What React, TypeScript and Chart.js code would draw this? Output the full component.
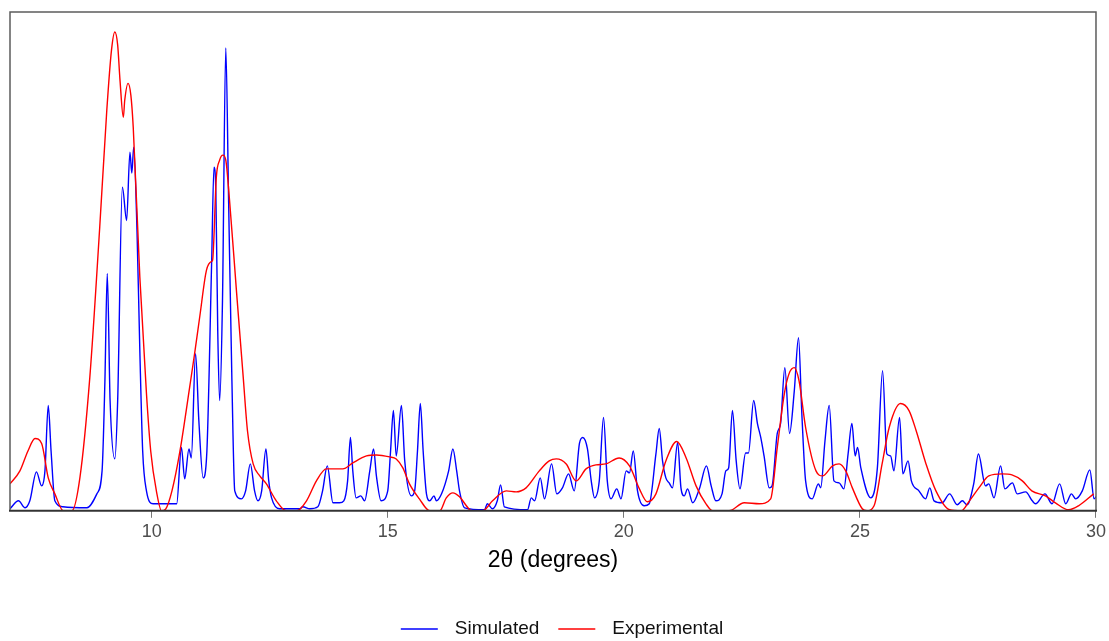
import { useEffect, useRef } from "react";
import { Chart, registerables } from "chart.js";

Chart.register(...registerables);

// Simulated powder pattern (2θ in degrees, relative intensity)
const simulatedTheta = [
  7.0, 7.18, 7.32, 7.42, 7.56, 7.67, 7.74, 7.81, 7.87, 7.95,
  8.12, 8.63, 8.84, 8.95, 9.01, 9.06, 9.12, 9.22, 9.28, 9.38,
  9.47, 9.54, 9.58, 9.62, 9.69, 9.75, 9.81, 9.89, 10.03, 10.53,
  10.63, 10.7, 10.79, 10.84, 10.93, 11.0, 11.09, 11.17, 11.27, 11.32,
  11.36, 11.4, 11.44, 11.5, 11.57, 11.63, 11.7, 11.76, 11.9, 11.99,
  12.09, 12.18, 12.25, 12.33, 12.42, 12.48, 12.54, 12.71, 13.14, 13.2,
  13.35, 13.52, 13.62, 13.72, 13.84, 13.98, 14.07, 14.15, 14.21, 14.26,
  14.33, 14.43, 14.51, 14.62, 14.7, 14.76, 14.86, 15.0, 15.06, 15.12,
  15.18, 15.29, 15.36, 15.5, 15.57, 15.63, 15.69, 15.75, 15.82, 15.89,
  15.98, 16.03, 16.14, 16.29, 16.38, 16.46, 16.52, 16.63, 17.05, 17.11,
  17.22, 17.32, 17.39, 17.47, 17.96, 18.04, 18.11, 18.23, 18.32, 18.47,
  18.58, 18.7, 18.83, 18.95, 19.06, 19.13, 19.23, 19.31, 19.38, 19.48,
  19.57, 19.65, 19.73, 19.85, 19.94, 20.05, 20.12, 20.2, 20.29, 20.43,
  20.54, 20.68, 20.75, 20.82, 20.89, 20.96, 21.03, 21.14, 21.21, 21.28,
  21.35, 21.46, 21.6, 21.75, 21.85, 21.95, 22.08, 22.16, 22.22, 22.3,
  22.38, 22.46, 22.58, 22.64, 22.75, 22.83, 22.9, 22.97, 23.08, 23.14,
  23.25, 23.32, 23.41, 23.51, 23.61, 23.7, 23.77, 23.85, 23.99, 24.12,
  24.17, 24.26, 24.35, 24.45, 24.56, 24.66, 24.75, 24.83, 24.9, 24.95,
  25.02, 25.23, 25.37, 25.48, 25.57, 25.65, 25.72, 25.84, 25.91, 26.02,
  26.09, 26.25, 26.39, 26.48, 26.57, 26.74, 26.9, 27.06, 27.17, 27.27,
  27.41, 27.51, 27.66, 27.73, 27.84, 27.98, 28.07, 28.23, 28.33, 28.51,
  28.65, 28.72, 28.92, 29.07, 29.23, 29.36, 29.48, 29.57, 29.71, 29.87,
  29.96, 30.0,
];
const simulatedIntensity = [
  0.4, 2.0, 0.6, 2.0, 7.8, 5.0, 8.0, 21.1, 12.0, 2.0,
  0.8, 0.6, 3.4, 8.0, 26, 47.6, 22, 10.4, 22, 64.9,
  58.2, 71.9, 67.7, 72.9, 56, 32, 12, 4.0, 1.4, 1.4,
  12.7, 6.4, 12.4, 10.6, 31.5, 18, 6.6, 12, 49.6, 68.9,
  63.7, 36, 22.1, 42, 92.8, 62, 26, 4.0, 2.4, 4,
  9.4, 4, 2.0, 4, 12.4, 6, 2.6, 0.4, 0.4, 0.8,
  0.4, 0.8, 4.0, 9.0, 1.6, 1.6, 2.0, 6, 14.7, 8,
  2.6, 3, 2.0, 8.0, 12.4, 7, 2.0, 4, 12, 20.1,
  11, 21.1, 10, 3, 4, 12, 21.5, 12, 3.4, 2.0,
  3.0, 2.0, 3.4, 8.0, 12.4, 8, 4, 0.6, 0.2, 1.4,
  0.4, 2, 5.2, 0.8, 0.2, 2.6, 2.0, 6.6, 2.4, 9.4,
  3.4, 4.6, 7.4, 4.0, 13.5, 14.7, 12.4, 6, 2.6, 6,
  18.7, 6, 2.4, 4.4, 2.4, 8.0, 7.6, 12.0, 4, 1.0,
  1.4, 11.4, 16.5, 10, 6.6, 5.6, 4.6, 13.7, 4.6, 3.0,
  4.4, 1.6, 4.4, 9.0, 5, 2.0, 3.4, 8.0, 8.6, 20.1,
  10, 4.4, 11.6, 11.6, 22.1, 17.5, 14.7, 11, 4.6, 5,
  15.5, 17.5, 28.7, 15.5, 24, 34.7, 19.5, 6, 2.4, 5.4,
  4.6, 14, 21.1, 6, 5.6, 4.4, 11.4, 17.5, 11, 12.7,
  8.6, 2.6, 8.6, 28.1, 11.4, 11, 8, 18.7, 7.4, 10,
  6, 4, 2.4, 4.6, 2, 1.6, 3.4, 1.2, 2, 1.2,
  5.4, 11.4, 5, 5.4, 2.6, 9.0, 4.4, 5.6, 3.4, 3.8,
  2, 1.4, 3.4, 1.4, 5.4, 1.4, 3.4, 2.4, 4, 8.2,
  2.4, 2.8,
];

// Measured powder pattern
const experimentalTheta = [
  7.0, 7.21, 7.38, 7.53, 7.67, 7.81, 7.95, 8.13, 8.31, 8.48,
  8.69, 8.9, 9.05, 9.15, 9.22, 9.28, 9.33, 9.4, 9.43, 9.5,
  9.56, 9.61, 9.75, 9.89, 9.98, 10.1, 10.21, 10.3, 10.43, 10.6,
  10.81, 10.91, 11.02, 11.16, 11.27, 11.29, 11.37, 11.44, 11.51, 11.57,
  11.65, 11.8, 11.94, 12.03, 12.15, 12.29, 12.43, 12.64, 12.85, 13.07,
  13.28, 13.49, 13.7, 13.91, 14.05, 14.26, 14.55, 14.76, 15.04, 15.18,
  15.32, 15.46, 15.67, 15.89, 16.1, 16.24, 16.38, 16.52, 16.7, 16.77,
  17.01, 17.22, 17.51, 17.72, 17.93, 18.21, 18.42, 18.57, 18.78, 18.99,
  19.2, 19.41, 19.62, 19.9, 20.12, 20.33, 20.5, 20.68, 20.89, 21.12,
  21.32, 21.53, 21.74, 21.88, 22.23, 22.55, 22.87, 23.11, 23.25, 23.4,
  23.5, 23.61, 23.71, 23.85, 24.07, 24.21, 24.42, 24.56, 24.7, 24.84,
  25.05, 25.15, 25.3, 25.47, 25.62, 25.86, 26.04, 26.19, 26.4, 26.61,
  26.9, 27.15, 27.32, 27.52, 27.73, 28.01, 28.22, 28.44, 28.64, 28.93,
  29.14, 29.42, 29.63, 29.95,
];
const experimentalIntensity = [
  5.4, 8.0, 12.0, 14.5, 13.5, 6.6, 3.4, 0, 0, 6.6,
  26.7, 56.8, 80.3, 92.4, 96.0, 93.4, 86.3, 78.9, 82.3, 85.7,
  83.3, 76.9, 46.8, 23.5, 12, 4.0, 0, 0.4, 4, 12.0,
  25.1, 31.5, 39, 48.2, 50.0, 50.2, 66.9, 70.3, 71.3, 70.3,
  62.2, 43.6, 26.7, 16, 9.4, 7, 5.4, 2.0, 0, 0,
  2.0, 6.0, 8.4, 8.4, 8.4, 9.6, 11.0, 11.2, 10.8, 10.4,
  8.6, 5.4, 2.4, 0, 0, 2.6, 3.6, 2.8, 0.6, 0,
  0, 2.0, 4.0, 3.8, 4.6, 8.0, 10.0, 10.4, 9.4, 6.0,
  8.4, 9.2, 9.4, 10.6, 9.0, 4.4, 1.8, 3.4, 10.0, 13.9,
  10.6, 5.0, 1.4, 0, 0, 1.6, 1.4, 2.4, 12.7, 23.5,
  27.5, 28.7, 26.1, 16.7, 8.0, 7.0, 9.0, 9.4, 8.0, 4.6,
  0.4, 0, 1.0, 9.4, 16.7, 21.5, 20.1, 16.1, 9.4, 4.0,
  0.2, 0, 2.0, 4.6, 7.0, 7.4, 7.2, 6.0, 4.0, 3.0,
  1.6, 0.2, 1.0, 3.4,
];

const thetaTicks = [10, 15, 20, 25, 30];
const thetaRange = [7, 30];
const intensityRange = [0, 100];

const FONT = 'Arial, "Liberation Sans", sans-serif';

// Box around the plotting area plus a darker baseline
const plotFrame = {
  id: "plotFrame",
  afterDatasetsDraw(chart: any) {
    const { ctx, chartArea: a } = chart;
    ctx.save();
    ctx.strokeStyle = "#5c5c5c";
    ctx.lineWidth = 1.5;
    ctx.beginPath();
    ctx.moveTo(a.left, a.bottom);
    ctx.lineTo(a.left, a.top);
    ctx.lineTo(a.right, a.top);
    ctx.lineTo(a.right, a.bottom);
    ctx.stroke();
    ctx.strokeStyle = "#333333";
    ctx.lineWidth = 2;
    ctx.beginPath();
    ctx.moveTo(a.left - 1, a.bottom);
    ctx.lineTo(a.right + 1, a.bottom);
    ctx.stroke();
    ctx.restore();
  },
};

// Horizontal line-sample legend under the axis title
const lineLegend = {
  id: "lineLegend",
  afterDraw(chart: any) {
    const { ctx, chartArea: a } = chart;
    ctx.save();
    ctx.font = `19px ${FONT}`;
    ctx.textBaseline = "middle";
    const sample = 37;
    const gapText = 17;
    const gapItem = 19;
    const items = chart.data.datasets.map((ds: any) => ({
      label: ds.label as string,
      color: ds.borderColor as string,
      w: ctx.measureText(ds.label).width,
    }));
    const total =
      items.reduce((s: number, it: any) => s + sample + gapText + it.w, 0) +
      gapItem * (items.length - 1);
    let x = (a.left + a.right) / 2 + 9 - total / 2;
    const y = 629;
    for (const it of items) {
      ctx.strokeStyle = it.color;
      ctx.lineWidth = 1.6;
      ctx.beginPath();
      ctx.moveTo(x, y);
      ctx.lineTo(x + sample, y);
      ctx.stroke();
      x += sample + gapText;
      ctx.fillStyle = "#111111";
      ctx.fillText(it.label, x, y);
      x += it.w + gapItem;
    }
    ctx.restore();
  },
};

export default function App() {
  const canvasRef = useRef<HTMLCanvasElement | null>(null);

  useEffect(() => {
    if (!canvasRef.current) return;
    const simulated = simulatedTheta.map((x, i) => ({ x, y: simulatedIntensity[i] }));
    const experimental = experimentalTheta.map((x, i) => ({ x, y: experimentalIntensity[i] }));

    const chart = new Chart(canvasRef.current, {
      type: "line",
      data: {
        datasets: [
          {
            label: "Simulated",
            data: simulated,
            borderColor: "#0000ff",
            borderWidth: 1.4,
            pointRadius: 0,
            cubicInterpolationMode: "monotone",
            order: 1,
          },
          {
            label: "Experimental",
            data: experimental,
            borderColor: "#ff0000",
            borderWidth: 1.4,
            pointRadius: 0,
            cubicInterpolationMode: "monotone",
            order: 0,
          },
        ],
      },
      options: {
        animation: false,
        responsive: false,
        parsing: false,
        layout: { padding: { left: 10, right: 12, top: 12, bottom: 67 } },
        plugins: {
          legend: { display: false },
          tooltip: { enabled: false },
        },
        scales: {
          x: {
            type: "linear",
            min: thetaRange[0],
            max: thetaRange[1],
            afterBuildTicks: (scale: any) => {
              scale.ticks = thetaTicks.map((v) => ({ value: v }));
            },
            grid: {
              display: true,
              drawOnChartArea: false,
              drawTicks: true,
              tickLength: 7,
              color: "#777777",
              lineWidth: 1,
            },
            border: { display: false },
            ticks: {
              padding: 3,
              color: "#4d4d4d",
              font: { family: FONT, size: 18 },
              maxRotation: 0,
              callback: (v: any) => String(v),
            },
            title: {
              display: true,
              text: "2θ (degrees)",
              color: "#000000",
              font: { family: FONT, size: 23 },
              padding: { top: 1, bottom: 0 },
            },
          },
          y: {
            display: false,
            min: intensityRange[0],
            max: intensityRange[1],
          },
        },
      },
      plugins: [plotFrame, lineLegend],
    });
    return () => chart.destroy();
  }, []);

  return (
    <div style={{ position: "fixed", left: 0, top: 0, width: 1109, height: 641, background: "#ffffff" }}>
      <canvas ref={canvasRef} width={1109} height={641} style={{ display: "block" }} />
    </div>
  );
}
